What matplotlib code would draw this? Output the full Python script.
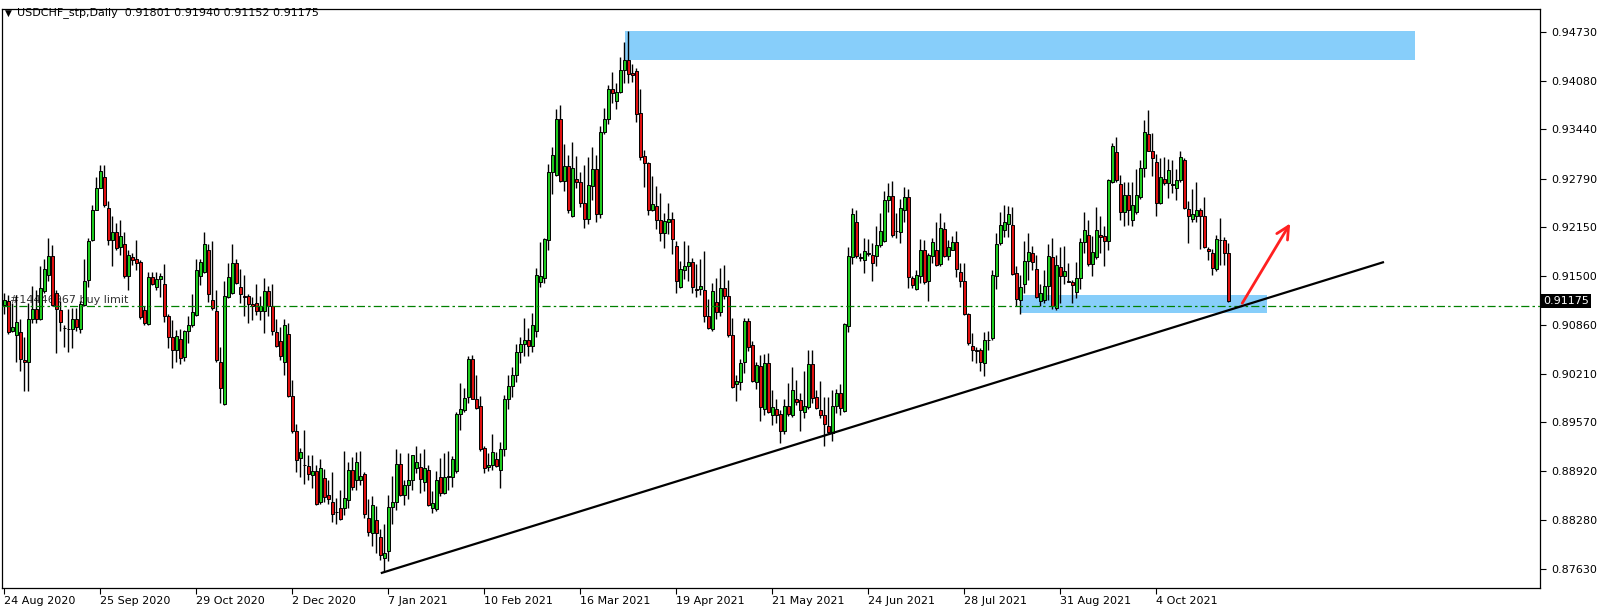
import matplotlib
matplotlib.use("Agg")
import matplotlib.pyplot as plt
from matplotlib.patches import Rectangle

# ---------------- data ----------------
symbol_title = "USDCHF_stp,Daily"
last_ohlc = [0.91801, 0.91940, 0.91152, 0.91175]

opens = [
    .9112, .9117, .9077, .9072, .9076, .9039, .9036, .9093, .9106, .9093,
    .9130, .9151, .9177, .9128, .9105, .9082, .9080, .9080, .9093, .9080,
    .9112, .9145, .9198, .9238, .9267, .9281, .9240, .9198, .9208, .9188,
    .9192, .9150, .9175, .9173, .9169, .9105, .9087, .9149, .9135, .9146,
    .9139, .9097, .9070, .9053, .9067, .9043, .9077, .9085, .9099, .9150,
    .9155, .9185, .9119, .9104, .9036, .8981, .9122, .9128, .9168, .9136,
    .9124, .9124, .9113, .9114, .9104, .9104, .9130, .9111, .9076, .9064,
    .9036, .9073, .8992, .8945, .8910, .8901, .8899, .8887, .8893, .8851,
    .8883, .8861, .8852, .8838, .8844, .8844, .8854, .8894, .8881, .8881,
    .8888, .8830, .8811, .8828, .8805, .8778, .8787, .8845, .8852, .8902,
    .8861, .8874, .8881, .8897, .8898, .8878, .8894, .8844, .8842, .8885,
    .8864, .8885, .8885, .8892, .8968, .8973, .8990, .9041, .8988, .8979,
    .8923, .8898, .8900, .8908, .8894, .8921, .8987, .9005, .9020, .9050,
    .9060, .9066, .9058, .9078, .9142, .9148, .9198, .9287, .9283, .9357,
    .9276, .9296, .9230, .9278, .9274, .9246, .9226, .9269, .9292, .9232,
    .9340, .9357, .9397, .9382, .9393, .9422, .9436, .9418, .9421, .9365,
    .9309, .9299, .9237, .9243, .9224, .9207, .9222, .9226, .9190, .9136,
    .9158, .9164, .9169, .9133, .9133, .9132, .9097, .9080, .9116, .9102,
    .9134, .9124, .9072, .9008, .9010, .9036, .9091, .9059, .9010, .9031,
    .8974, .9035, .8966, .8974, .8968, .8945, .8979, .8966, .8988, .8986,
    .8970, .8977, .9034, .8990, .8973, .8967, .8952, .8943, .8978, .8995,
    .8972, .9084, .9175, .9221, .9175, .9171, .9180, .9178, .9176, .9191,
    .9197, .9251, .9256, .9209, .9208, .9238, .9254, .9147, .9133, .9150,
    .9185, .9144, .9177, .9185, .9166, .9212, .9176, .9185, .9195, .9155,
    .9144, .9100, .9058, .9052, .9053, .9035, .9066, .9068, .9150, .9194,
    .9211, .9219, .9218, .9154, .9119, .9140, .9170, .9181, .9160, .9117,
    .9119, .9137, .9175, .9108, .9162, .9150, .9143, .9142, .9129, .9147,
    .9195, .9205, .9166, .9175, .9205, .9203, .9197, .9275, .9314, .9272,
    .9235, .9257, .9224, .9235, .9254, .9293, .9338, .9316, .9301, .9246,
    .9278, .9273, .9272, .9266, .9277, .9304, .9239, .9225, .9229, .9238,
    .9230, .9186, .9181, .9159, .9198, .9198, .91801,
]
highs = [
    .9128, .9125, .9114, .9125, .9094, .9070, .9114, .9137, .9132, .9163,
    .9172, .9200, .9191, .9132, .9117, .9086, .9106, .9108, .9108, .9117,
    .9172, .9200, .9244, .9281, .9297, .9297, .9249, .9229, .9220, .9224,
    .9208, .9185, .9180, .9198, .9171, .9110, .9155, .9155, .9155, .9154,
    .9166, .9100, .9092, .9079, .9080, .9079, .9097, .9127, .9172, .9172,
    .9208, .9193, .9196, .9132, .9057, .9143, .9167, .9193, .9172, .9159,
    .9152, .9127, .9122, .9140, .9124, .9147, .9137, .9140, .9093, .9083,
    .9093, .9088, .9013, .8954, .8923, .8947, .8914, .8914, .8900, .8908,
    .8895, .8881, .8891, .8857, .8868, .8919, .8904, .8911, .8917, .8919,
    .8891, .8855, .8859, .8846, .8816, .8822, .8861, .8886, .8921, .8916,
    .8881, .8916, .8914, .8926, .8916, .8921, .8901, .8866, .8892, .8910,
    .8916, .8919, .8912, .8971, .9009, .9002, .9045, .9046, .9020, .8991,
    .8925, .8916, .8941, .8917, .8931, .8993, .9020, .9030, .9060, .9070,
    .9095, .9081, .9101, .9161, .9195, .9201, .9298, .9320, .9371, .9376,
    .9325, .9310, .9327, .9309, .9288, .9297, .9307, .9321, .9310, .9349,
    .9372, .9403, .9420, .9405, .9440, .9460, .9474, .9430, .9425, .9397,
    .9317, .9301, .9282, .9269, .9260, .9234, .9246, .9235, .9196, .9170,
    .9197, .9191, .9174, .9166, .9173, .9183, .9120, .9141, .9147, .9161,
    .9165, .9145, .9095, .9020, .9040, .9095, .9095, .9064, .9037, .9046,
    .9047, .9048, .9000, .8988, .8973, .8988, .9009, .9030, .9013, .8996,
    .9024, .9053, .9053, .9000, .9011, .8990, .8990, .9000, .9001, .9007,
    .9088, .9188, .9240, .9237, .9180, .9200, .9199, .9194, .9216, .9233,
    .9262, .9273, .9276, .9233, .9252, .9268, .9265, .9150, .9158, .9199,
    .9198, .9180, .9200, .9222, .9234, .9222, .9198, .9203, .9209, .9167,
    .9167, .9101, .9075, .9057, .9055, .9076, .9077, .9158, .9207, .9235,
    .9244, .9243, .9241, .9164, .9152, .9197, .9207, .9190, .9178, .9140,
    .9158, .9193, .9200, .9178, .9189, .9190, .9168, .9145, .9169, .9200,
    .9235, .9224, .9203, .9241, .9229, .9216, .9279, .9326, .9334, .9284,
    .9274, .9274, .9275, .9291, .9303, .9356, .9370, .9339, .9312, .9306,
    .9308, .9305, .9303, .9291, .9315, .9306, .9249, .9265, .9275, .9240,
    .9254, .9189, .9186, .9204, .9227, .9202, .91940,
]
lows = [
    .9100, .9074, .9076, .9037, .9024, .8998, .8998, .9088, .9088, .9092,
    .9128, .9143, .9110, .9048, .9077, .9057, .9050, .9055, .9077, .9075,
    .9110, .9136, .9196, .9237, .9266, .9242, .9191, .9163, .9185, .9178,
    .9147, .9132, .9165, .9158, .9094, .9085, .9086, .9138, .9132, .9123,
    .9090, .9055, .9029, .9036, .9034, .9038, .9061, .9083, .9097, .9138,
    .9154, .9116, .9105, .9036, .8982, .8980, .9121, .9127, .9140, .9114,
    .9097, .9088, .9092, .9098, .9092, .9075, .9097, .9072, .9057, .9039,
    .9019, .8990, .8943, .8891, .8885, .8875, .8881, .8870, .8847, .8849,
    .8852, .8849, .8825, .8822, .8828, .8835, .8844, .8867, .8867, .8874,
    .8830, .8806, .8793, .8784, .8775, .8760, .8773, .8822, .8841, .8859,
    .8848, .8855, .8868, .8890, .8864, .8866, .8846, .8837, .8840, .8859,
    .8862, .8868, .8871, .8890, .8947, .8970, .8983, .8987, .8974, .8919,
    .8890, .8892, .8894, .8898, .8870, .8912, .8975, .8990, .9010, .9035,
    .9045, .9045, .9050, .9070, .9136, .9141, .9185, .9258, .9282, .9274,
    .9262, .9234, .9228, .9267, .9242, .9214, .9219, .9251, .9222, .9227,
    .9338, .9351, .9379, .9371, .9392, .9405, .9405, .9406, .9354, .9303,
    .9268, .9231, .9236, .9212, .9197, .9187, .9206, .9179, .9128, .9134,
    .9146, .9143, .9128, .9122, .9125, .9089, .9080, .9078, .9093, .9097,
    .9120, .9070, .9002, .8985, .9000, .9022, .9051, .9010, .9001, .8959,
    .8967, .8969, .8953, .8956, .8929, .8941, .8965, .8964, .8980, .8946,
    .8963, .8975, .8982, .8974, .8963, .8926, .8941, .8932, .8969, .8967,
    .8970, .9076, .9166, .9174, .9170, .9154, .9176, .9143, .9163, .9189,
    .9195, .9235, .9202, .9200, .9194, .9222, .9134, .9134, .9132, .9141,
    .9140, .9117, .9167, .9163, .9163, .9175, .9171, .9184, .9149, .9136,
    .9099, .9059, .9038, .9035, .9024, .9018, .9053, .9066, .9133, .9191,
    .9202, .9202, .9151, .9110, .9100, .9128, .9145, .9158, .9121, .9111,
    .9115, .9119, .9106, .9105, .9114, .9139, .9142, .9115, .9121, .9133,
    .9181, .9163, .9150, .9173, .9181, .9163, .9185, .9273, .9275, .9224,
    .9216, .9218, .9216, .9232, .9252, .9281, .9315, .9282, .9230, .9245,
    .9271, .9253, .9260, .9251, .9275, .9239, .9194, .9222, .9222, .9186,
    .9187, .9171, .9151, .9157, .9165, .9165, .91152,
]
closes = [
    .9118, .9076, .9083, .9089, .9040, .9036, .9094, .9106, .9093, .9134,
    .9160, .9176, .9112, .9106, .9089, .9081, .9080, .9094, .9083, .9113,
    .9144, .9197, .9238, .9267, .9289, .9244, .9198, .9208, .9187, .9203,
    .9150, .9178, .9171, .9168, .9096, .9088, .9149, .9139, .9146, .9150,
    .9097, .9069, .9053, .9071, .9042, .9077, .9085, .9103, .9158, .9169,
    .9193, .9127, .9108, .9039, .9002, .9124, .9149, .9167, .9141, .9126,
    .9123, .9113, .9111, .9104, .9110, .9130, .9111, .9078, .9058, .9044,
    .9085, .8992, .8946, .8907, .8918, .8901, .8889, .8893, .8849, .8896,
    .8858, .8856, .8836, .8838, .8829, .8857, .8894, .8872, .8904, .8886,
    .8836, .8812, .8848, .8811, .8782, .8784, .8845, .8852, .8902, .8861,
    .8874, .8881, .8913, .8905, .8882, .8896, .8848, .8850, .8881, .8864,
    .8885, .8886, .8908, .8968, .8974, .8989, .9041, .8988, .8976, .8922,
    .8897, .8900, .8918, .8899, .8921, .8987, .9005, .9020, .9050, .9060,
    .9066, .9058, .9086, .9151, .9150, .9199, .9287, .9310, .9357, .9276,
    .9296, .9237, .9293, .9274, .9246, .9226, .9271, .9291, .9232, .9340,
    .9358, .9397, .9392, .9393, .9422, .9436, .9417, .9416, .9364, .9308,
    .9299, .9238, .9245, .9224, .9207, .9223, .9226, .9199, .9143, .9159,
    .9164, .9169, .9135, .9132, .9137, .9097, .9082, .9131, .9102, .9134,
    .9124, .9072, .9003, .9011, .9035, .9091, .9057, .9012, .9033, .8977,
    .9035, .8971, .8977, .8967, .8945, .8979, .8968, .8999, .8984, .8973,
    .8979, .9034, .8989, .8976, .8966, .8954, .8944, .8979, .8995, .8976,
    .9087, .9176, .9232, .9176, .9174, .9183, .9179, .9167, .9191, .9209,
    .9250, .9256, .9204, .9209, .9240, .9254, .9149, .9138, .9151, .9185,
    .9142, .9178, .9195, .9165, .9213, .9176, .9188, .9195, .9159, .9143,
    .9100, .9061, .9052, .9051, .9036, .9066, .9066, .9152, .9193, .9218,
    .9221, .9232, .9153, .9120, .9136, .9170, .9182, .9169, .9122, .9128,
    .9137, .9177, .9110, .9165, .9150, .9157, .9142, .9138, .9147, .9195,
    .9211, .9166, .9182, .9211, .9202, .9197, .9277, .9322, .9277, .9235,
    .9257, .9238, .9244, .9257, .9293, .9340, .9316, .9306, .9246, .9281,
    .9273, .9290, .9271, .9277, .9307, .9240, .9229, .9232, .9238, .9229,
    .9188, .9183, .9161, .9199, .9198, .9180, .91175,
]

date_labels = ["24 Aug 2020", "25 Sep 2020", "29 Oct 2020", "2 Dec 2020",
               "7 Jan 2021", "10 Feb 2021", "16 Mar 2021", "19 Apr 2021",
               "21 May 2021", "24 Jun 2021", "28 Jul 2021", "31 Aug 2021",
               "4 Oct 2021"]
bars_per_label = 24
price_ticks = [0.94730, 0.94080, 0.93440, 0.92790, 0.92150, 0.91500,
               0.90860, 0.90210, 0.89570, 0.88920, 0.88280, 0.87630]

order_label = "#14446967 buy limit"
order_price = 0.9111
bid_price = 0.91175

# drawn objects (bar index, price)
trend_bars = [94.2, 345.0]
trend_prices = [0.87575, 0.91687]
supply_zone = dict(bar0=155.25, bar1=352.75, p0=0.9436, p1=0.9474)
demand_zone = dict(bar0=253.9, bar1=315.8, p0=0.9101, p1=0.9125)
arrow_bars = [309.2, 321.9]
arrow_prices = [0.9111, 0.92228]

# ---------------- figure layout ----------------
W, H, DPI = 1604, 612, 100
fig = plt.figure(figsize=(W / DPI, H / DPI), dpi=DPI)
fig.patch.set_facecolor("white")
L_px, R_px, T_px, B_px = 2, 1540, 9, 588
ax = fig.add_axes([L_px / W, 1 - B_px / H, (R_px - L_px) / W, (B_px - T_px) / H])

P0, K = 0.951489, 0.00013214          # price at pixel row 0, price per pixel
ax.set_ylim(P0 - K * B_px, P0 - K * T_px)
ax.set_xlim((L_px - 4) / 4.0, (R_px - 4) / 4.0)

BULL = "#1ecb1e"
BEAR = "#e01010"
ZONE = "#87cefa"

# zones (background)
for z in (supply_zone, demand_zone):
    ax.add_patch(Rectangle((z["bar0"], z["p0"]), z["bar1"] - z["bar0"], z["p1"] - z["p0"],
                           facecolor=ZONE, edgecolor="none", zorder=1))

# order label sits beneath the candles
ax.text(1.5, order_price + 0.00005, order_label, fontsize=8, color="#333333",
        va="bottom", ha="left", zorder=1.5)

# candles
n = len(closes)
xs = list(range(n))
ax.vlines(xs, lows, highs, color="black", linewidth=1.0, zorder=2)
cols = [BULL if c > o else (BEAR if c < o else "black") for o, c in zip(opens, closes)]
bottoms = [min(o, c) for o, c in zip(opens, closes)]
heights = [abs(c - o) for o, c in zip(opens, closes)]
ax.bar(xs, heights, bottom=bottoms, width=0.75, color=cols, edgecolor="black",
       linewidth=0.7, zorder=3)

# order line
ax.axhline(order_price, color="#008000", linewidth=0.9,
           linestyle=(0, (6.5, 2.5, 2.0, 2.5)), zorder=4)

# trend line
ax.plot(trend_bars, trend_prices, color="black", linewidth=1.6, zorder=5,
        solid_capstyle="butt")

# red arrow
ax.annotate("", xy=(arrow_bars[1], arrow_prices[1]), xytext=(arrow_bars[0], arrow_prices[0]),
            arrowprops=dict(arrowstyle="->,head_length=0.9,head_width=0.45",
                            color="#ff2020", linewidth=2.0), zorder=6)

# axes styling
for s in ax.spines.values():
    s.set_color("black")
    s.set_linewidth(0.9)
ax.yaxis.tick_right()
ax.set_yticks(price_ticks)
ax.set_yticklabels([f"{v:.5f}" for v in price_ticks])
ax.tick_params(axis="y", length=4, width=0.8, pad=4, labelsize=8, colors="black")
ax.set_xticks([i * bars_per_label for i in range(len(date_labels))])
ax.set_xticklabels(date_labels)
ax.tick_params(axis="x", length=4, width=0.8, pad=2, labelsize=8)
for t in ax.get_xticklabels():
    t.set_ha("left")

# bid price box on the scale
ax.text(1.002, bid_price, f"{bid_price:.5f}", transform=ax.get_yaxis_transform(),
        fontsize=8, color="white", va="center", ha="left",
        bbox=dict(facecolor="black", edgecolor="none", pad=1.6), clip_on=False, zorder=7)

# header
fig.text(5 / W, 1 - 13 / H, "\u25bc", fontsize=6.5, va="center", ha="left")
fig.text(17 / W, 1 - 13 / H,
         symbol_title + "  " + " ".join(f"{v:.5f}" for v in last_ohlc),
         fontsize=8, va="center", ha="left")

fig.savefig("out.png", dpi=DPI, facecolor="white")
